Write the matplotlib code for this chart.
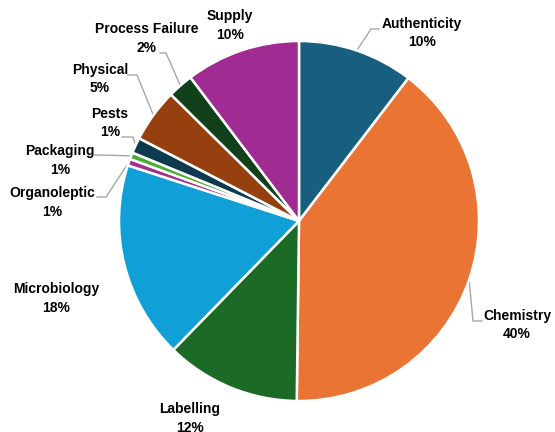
import matplotlib
matplotlib.use("Agg")
import matplotlib.pyplot as plt
import numpy as np

categories = ["Authenticity", "Chemistry", "Labelling", "Microbiology", "Organoleptic",
              "Packaging", "Pests", "Physical", "Process Failure", "Supply"]
values = [10.4, 39.8, 12.1, 17.7, 0.6, 0.6, 1.4, 4.8, 2.3, 10.3]
colors = ["#175E7F", "#EA7434", "#1B6A26", "#10A0D7", "#A22E8F",
          "#4CAD32", "#0E3A50", "#964010", "#11401B", "#A02B93"]

# layout (pixel coordinates in the 555x432 image): label centre, leader elbow points
label_pos = [(422, 24), (517, 316), (190, 409), (56, 289), (52, 193),
             (60, 151), (110, 114), (100, 70), (147, 29), (230, 16)]
leaders = [[(379, 29), (371, 29)], [(482, 321), (473, 321)], None, None,
           [(97, 197), (106, 197)], [(95, 155)], [(122, 137), (133, 137)],
           [(128, 75), (137, 75)], [(160, 53), (166, 53)], None]

W, H = 555, 432
CX, CY, R = 299, 221, 180

fig = plt.figure(figsize=(W / 100, H / 100), dpi=100)
ax = fig.add_axes([0, 0, 1, 1])

wedges, _ = ax.pie(values, colors=colors, startangle=90, counterclock=False,
                   radius=1, center=(0, 0), frame=True,
                   wedgeprops=dict(edgecolor="white", linewidth=1.8))
ax.set_xlim(-CX / R, (W - CX) / R)
ax.set_ylim((CY - H) / R, CY / R)
ax.axis("off")


def to_data(p):
    return ((p[0] - CX) / R, (CY - p[1]) / R)


total = sum(values)
font = dict(family=["Liberation Sans", "DejaVu Sans"], fontweight="bold", fontsize=10,
            color="black", ha="center", va="center")
for w, name, v, lp, ld in zip(wedges, categories, values, label_pos, leaders):
    pct = f"{round(v / total * 100):d}%"
    x, y = to_data(lp)
    ax.text(x, y, name, **font)
    ax.text(x, y - 18.5 / R, pct, **font)
    if ld is not None:
        mid = np.deg2rad((w.theta1 + w.theta2) / 2)
        end = (np.cos(mid), np.sin(mid))
        pts = [to_data(p) for p in ld] + [end]
        ax.plot([p[0] for p in pts], [p[1] for p in pts], color="#A6A6A6", lw=1.0,
                zorder=0.5)

fig.savefig("out.png", dpi=100)
